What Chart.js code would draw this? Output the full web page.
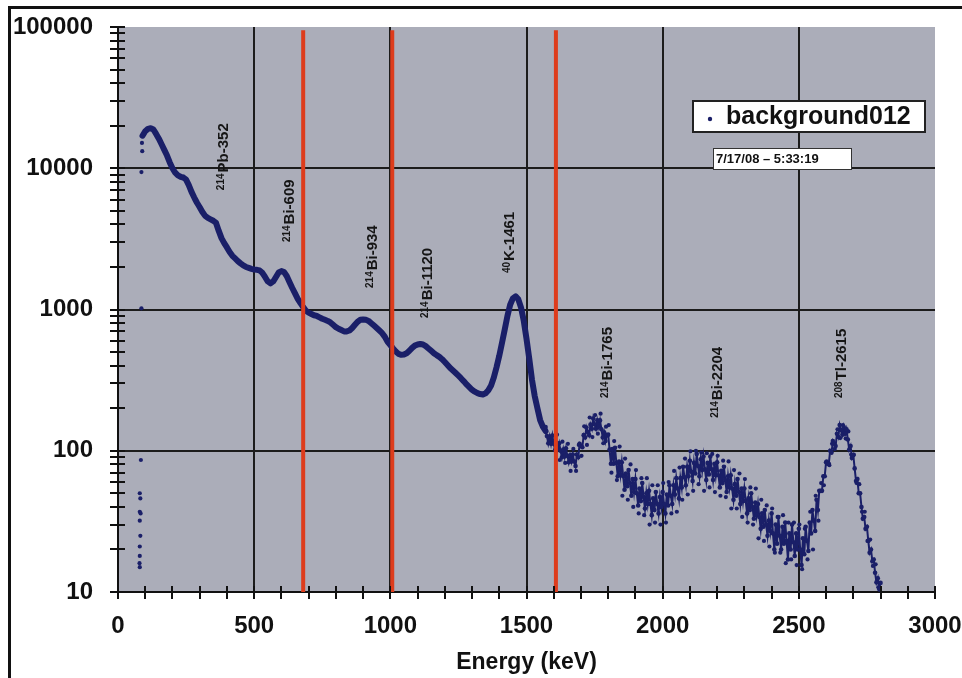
<!DOCTYPE html>
<html>
<head>
<meta charset="utf-8">
<script src="https://cdn.jsdelivr.net/npm/chart.js@4.4.1/dist/chart.umd.min.js"></script>
<style>
html, body { margin: 0; padding: 0; background: #fff; }
#wrap { width: 962px; height: 678px; position: relative; }
</style>
</head>
<body>
<div id="wrap"><canvas id="myChart"></canvas></div>
<script>
// smooth low-energy part, one reading every 10 keV starting at 90 keV
var smoothStart = 90;
var smoothStep = 10;
var smoothCounts = [
    17000, 18300, 19000, 19200, 18800, 17500, 16200, 14800, 13500, 12300,
    11000, 10000, 9300, 8900, 8700, 8600, 8300, 7600, 6800, 6200,
    5700, 5300, 4900, 4600, 4450, 4350, 4250, 4100, 3600, 3200,
    2950, 2750, 2550, 2400, 2300, 2200, 2120, 2050, 2000, 1970,
    1940, 1920, 1910, 1890, 1820, 1700, 1580, 1530, 1580, 1700,
    1830, 1870, 1840, 1720, 1560, 1420, 1300, 1190, 1110, 1040,
    980, 950, 930, 910, 900, 880, 860, 845, 830, 810,
    780, 750, 730, 715, 700, 700, 710, 740, 780, 820,
    845, 850, 845, 830, 800, 770, 740, 710, 680, 640,
    590, 560, 530, 505, 485, 478, 480, 490, 510, 535,
    555, 565, 570, 565, 550, 530, 510, 490, 475, 462,
    445, 425, 405, 385, 370, 355, 340, 325, 310, 295,
    282, 270, 262, 256, 252, 250, 255, 268, 290, 330,
    390, 470, 580, 720, 900, 1080, 1200, 1240, 1180, 1030,
    830, 620, 450, 320, 245, 200, 165, 148, 138
];

// noisy high-energy part, one reading every 5 keV starting at 1570 keV
var noisyStart = 1570;
var noisyStep = 5;
var noisyCounts = [
    147, 127, 113, 126, 112, 128, 112, 101, 114, 103,
    113, 100, 90, 102, 91, 104, 92, 83, 93, 84,
    94, 84, 78, 94, 90, 112, 108, 106, 129, 124,
    146, 136, 129, 153, 143, 169, 154, 143, 164, 148,
    164, 142, 124, 135, 117, 129,
    130, 102, 81, 103, 81, 105, 82, 66, 84, 68,
    83, 66, 53, 69, 56, 73, 59, 48, 63, 51,
    63, 50, 41, 54, 44, 59, 47, 39, 50, 42,
    52, 42, 35, 46, 38, 51, 42, 36, 47, 40,
    51, 42, 36, 49, 41, 57, 48, 42, 57, 49,
    64, 54, 46, 64, 55, 77, 65, 57, 77, 66,
    85, 71, 61, 82, 69, 95, 78, 66, 87, 73,
    91, 74, 62, 82, 68, 91, 74, 62, 81, 67,
    83, 67, 55, 72, 59, 77, 62, 51, 66, 55,
    67, 54, 45, 58, 48, 63, 51, 42, 54, 44,
    54, 44, 36, 46, 38, 50, 40, 33, 43, 35,
    42, 34, 28, 36, 29, 38, 30, 25, 32, 27,
    36, 26, 20, 30, 22, 34, 25, 20, 29, 22,
    31, 23, 17, 26, 20, 30, 22.5, 18, 26, 20,
    28, 20, 15.5, 24, 18.5, 29, 23, 19.5, 31, 26,
    38, 32, 27, 45, 38,
    52, 52, 52, 66, 66, 83, 81, 81, 100, 97,
    117, 112, 108, 132, 125, 152, 140, 130, 147, 132,
    142, 120, 102, 108, 89, 93, 75, 61, 63, 50,
    50, 40, 33, 34, 28, 29, 23, 19, 20, 16.5,
    17, 13.7, 11.7, 12.5, 10.5, 11.6
];

// scattered outlying channels of the noisy part, one every 10 keV from 1612 keV
var outerStart = 1612;
var outerStep = 10;
var outerCounts = [
    130, 86, 116, 82, 112, 72, 103, 72, 110, 92,
    149, 110, 172, 125, 179, 132, 183, 113, 148,
    152, 70, 117, 62, 107, 48, 88, 45, 80, 40,
    73, 36, 64, 35, 64, 30, 57, 31, 57, 30,
    59, 31, 60, 36, 72, 37, 76, 45, 88, 49,
    99, 52, 100, 58, 97, 52, 96, 55, 95, 51,
    92, 48, 85, 47, 84, 39, 73, 39, 69, 34,
    63, 31, 55, 30, 54, 24, 45, 23, 41, 21,
    39, 19, 34, 19, 35, 16, 31, 17, 31, 15.5,
    30, 14.5, 28, 17, 37, 20, 48, 32,
    59, 57, 84, 79, 112, 103, 142, 123, 152, 122,
    137, 94, 94, 59, 58, 37, 37, 23, 23.5, 15.3,
    15.7, 10.8
];

// stray channels below the first peak
var strayEnergy = [86, 86, 84, 80, 82, 80, 83, 80, 82, 80, 80, 79, 80, 88, 89];
var strayCounts = [9400, 1020, 86, 50, 46, 37, 36, 32, 25, 21, 18, 16, 15, 15100, 13200];

// red window markers (keV)
var windowEdges = [680, 1007, 1608];

// peak labels: isotope mass, name, where the label sits (keV, counts at its lower end)
var peakSup = ['214', '214', '214', '214', '40', '214', '214', '208'];
var peakName = ['Pb-352', 'Bi-609', 'Bi-934', 'Bi-1120', 'K-1461', 'Bi-1765', 'Bi-2204', 'Tl-2615'];
var peakEnergy = [389, 632, 936, 1139, 1440, 1800, 2203, 2659];
var peakBase = [7000, 3000, 1420, 870, 1810, 236, 171, 236];

var xTickLabels = [0, 500, 1000, 1500, 2000, 2500, 3000];
var yTickLabels = [10, 100, 1000, 10000, 100000];

var seriesName = 'background012';
var timeStamp = '7/17/08 \u2013 5:33:19';

var navy = '#1a1f68';
var FONT = '"Liberation Sans", Arial, sans-serif';

var smoothData = smoothCounts.map(function (c, i) { return { x: smoothStart + i * smoothStep, y: c }; });
var noisyData = noisyCounts.map(function (c, i) { return { x: noisyStart + i * noisyStep, y: c }; });
var outerData = outerCounts.map(function (c, i) { return { x: outerStart + i * outerStep, y: c }; });
var strayData = strayEnergy.map(function (e, i) { return { x: e, y: strayCounts[i] }; });

var datasets = [{
    label: seriesName,
    data: noisyData,
    showLine: true,
    borderColor: navy,
    borderWidth: 2,
    backgroundColor: navy,
    pointRadius: 2.3,
    pointBorderWidth: 0,
    order: 2
}, {
    label: 'scatter',
    data: outerData.concat(strayData),
    backgroundColor: navy,
    pointRadius: 2.1,
    pointBorderWidth: 0,
    order: 2
}, {
    label: 'smooth',
    data: smoothData,
    showLine: true,
    borderColor: navy,
    borderWidth: 6,
    borderJoinStyle: 'round',
    borderCapStyle: 'round',
    pointRadius: 0,
    order: 3
}];
windowEdges.forEach(function (e) {
    datasets.push({
        label: 'edge',
        data: [{ x: e, y: 10 }, { x: e, y: 95000 }],
        showLine: true,
        borderColor: '#dd3c1c',
        borderWidth: 4,
        pointRadius: 0,
        order: 1
    });
});

function isDecade(v) {
    var l = Math.log10(v);
    return Math.abs(l - Math.round(l)) < 1e-9;
}

var decorations = {
    id: 'decorations',
    beforeDraw: function (chart) {
        var ctx = chart.ctx, a = chart.chartArea;
        ctx.save();
        ctx.fillStyle = '#fff';
        ctx.fillRect(0, 0, chart.width, chart.height);
        ctx.fillStyle = '#abadb9';
        ctx.fillRect(a.left, a.top, a.right - a.left, a.bottom - a.top);
        // outer frame
        ctx.strokeStyle = '#111';
        ctx.lineWidth = 3;
        ctx.beginPath();
        ctx.moveTo(9.5, chart.height);
        ctx.lineTo(9.5, 7.5);
        ctx.lineTo(chart.width, 7.5);
        ctx.stroke();
        ctx.restore();
    },
    afterDraw: function (chart) {
        var ctx = chart.ctx, a = chart.chartArea;
        var xs = chart.scales.x, ys = chart.scales.y;
        ctx.save();
        ctx.strokeStyle = '#111';
        ctx.lineWidth = 2;
        ctx.beginPath();
        ys.ticks.forEach(function (t) {
            var py = Math.round(ys.getPixelForValue(t.value));
            ctx.moveTo(a.left - 8, py);
            ctx.lineTo(a.left + 7, py);
        });
        xs.ticks.forEach(function (t) {
            var px = Math.round(xs.getPixelForValue(t.value));
            ctx.moveTo(px, a.bottom - 6);
            ctx.lineTo(px, a.bottom + 7);
        });
        ctx.stroke();

        // peak labels
        ctx.fillStyle = '#151515';
        ctx.textBaseline = 'middle';
        ctx.textAlign = 'left';
        peakName.forEach(function (name, i) {
            var px = xs.getPixelForValue(peakEnergy[i]);
            var py = ys.getPixelForValue(peakBase[i]);
            ctx.save();
            ctx.translate(px, py);
            ctx.rotate(-Math.PI / 2);
            ctx.font = 'bold 10px ' + FONT;
            ctx.fillText(peakSup[i], 0, -3);
            var w = ctx.measureText(peakSup[i]).width;
            ctx.font = 'bold 15px ' + FONT;
            ctx.fillText(name, w + 1, 0);
            ctx.restore();
        });

        // legend box
        ctx.fillStyle = '#fff';
        ctx.fillRect(693, 101, 232, 31);
        ctx.strokeStyle = '#222';
        ctx.lineWidth = 2;
        ctx.strokeRect(693, 101, 232, 31);
        ctx.fillStyle = navy;
        ctx.beginPath();
        ctx.arc(710, 119, 2.2, 0, Math.PI * 2);
        ctx.fill();
        ctx.fillStyle = '#111';
        ctx.font = 'bold 25px ' + FONT;
        ctx.fillText(chart.data.datasets[0].label, 726, 117);

        // time stamp
        ctx.fillStyle = '#fff';
        ctx.fillRect(713, 148, 138, 21);
        ctx.strokeStyle = '#333';
        ctx.lineWidth = 1;
        ctx.strokeRect(713.5, 148.5, 138, 21);
        ctx.fillStyle = '#111';
        ctx.font = 'bold 13px ' + FONT;
        ctx.fillText(timeStamp, 716, 159);
        ctx.restore();
    }
};

var ctx = document.getElementById('myChart').getContext('2d');
var myChart = new Chart(ctx, {
    type: 'scatter',
    data: { datasets: datasets },
    options: {
        responsive: true,
        maintainAspectRatio: false,
        animation: false,
        layout: { padding: { top: 27, right: 27, left: 0, bottom: 0 } },
        plugins: {
            legend: { display: false },
            tooltip: { enabled: false }
        },
        scales: {
            x: {
                type: 'linear',
                min: 0,
                max: 3000,
                afterBuildTicks: function (scale) {
                    var t = [];
                    for (var v = 0; v <= 3000; v += 100) t.push({ value: v });
                    scale.ticks = t;
                },
                afterFit: function (scale) { scale.height = 86; },
                grid: {
                    drawTicks: true,
                    tickLength: 20,
                    tickColor: 'rgba(0,0,0,0)',
                    lineWidth: 2,
                    color: function (c) {
                        var v = c.tick ? c.tick.value : -1;
                        return (v > 0 && v < 3000 && xTickLabels.indexOf(v) >= 0) ? '#1c1c1c' : 'rgba(0,0,0,0)';
                    }
                },
                border: { display: true, color: '#111', width: 2 },
                ticks: {
                    autoSkip: false,
                    maxRotation: 0,
                    padding: 0,
                    color: '#111',
                    font: { family: FONT, size: 24, weight: 'bold' },
                    callback: function (v) { return xTickLabels.indexOf(v) >= 0 ? String(v) : ''; }
                },
                title: {
                    display: true,
                    text: 'Energy (keV)',
                    color: '#111',
                    font: { family: FONT, size: 23, weight: 'bold' },
                    padding: { top: 0, bottom: 2 }
                }
            },
            y: {
                type: 'logarithmic',
                min: 10,
                max: 100000,
                afterBuildTicks: function (scale) {
                    var t = [];
                    for (var d = 10; d < 100000; d *= 10) {
                        for (var m = 1; m <= 9; m++) t.push({ value: d * m });
                    }
                    t.push({ value: 100000 });
                    scale.ticks = t;
                },
                afterFit: function (scale) { scale.width = 118; },
                grid: {
                    drawTicks: true,
                    tickLength: 24,
                    tickColor: 'rgba(0,0,0,0)',
                    lineWidth: 2,
                    color: function (c) {
                        var v = c.tick ? c.tick.value : 0;
                        return (isDecade(v) && v > 10 && v < 100000) ? '#1c1c1c' : 'rgba(0,0,0,0)';
                    }
                },
                border: { display: true, color: '#111', width: 2 },
                ticks: {
                    autoSkip: false,
                    padding: 1,
                    color: '#111',
                    font: { family: FONT, size: 24, weight: 'bold' },
                    callback: function (v) { return yTickLabels.indexOf(v) >= 0 ? String(v) : ''; }
                }
            }
        }
    },
    plugins: [decorations]
});
</script>
</body>
</html>
